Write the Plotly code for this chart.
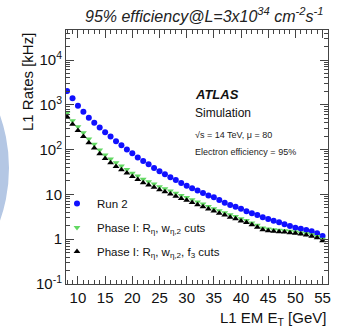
import plotly.graph_objects as go

# ---------------- data ----------------
et_gev = list(range(8, 56))

rate_run2 = [2030, 1400, 955, 700, 515, 400, 310, 243, 195, 153,
             125, 101, 83, 67, 56, 47, 39, 33, 28, 24,
             21, 18, 15.6, 13.8, 12.2, 10.7, 9.4, 8.6, 7.5, 6.5,
             5.8, 5.3, 4.8, 4.2, 3.8, 3.47, 3.08, 2.83, 2.59, 2.38,
             2.15, 1.97, 1.81, 1.72, 1.60, 1.50, 1.35, 1.18]

rate_phase1_reta_weta2 = [646, 442, 325, 238, 173, 131, 98, 76, 62, 51,
                          43, 36, 29.5, 25.7, 21.7, 19.2, 17, 14.9, 13.4, 11.9,
                          10.6, 9.4, 8.5, 7.6, 6.8, 6.1, 5.4, 4.8, 4.3, 3.9,
                          3.5, 3.2, 2.85, 2.6, 2.3, 2.05, 1.78, 1.68, 1.62, 1.58,
                          1.55, 1.5, 1.45, 1.38, 1.32, 1.25, 1.15, 1.0]

rate_phase1_reta_weta2_f3 = [540, 370, 268, 196, 143, 108, 81, 63, 51, 42,
                             35.5, 30, 25, 21.5, 18.3, 16.2, 14.4, 12.7, 11.4, 10.2,
                             9.1, 8.1, 7.4, 6.6, 5.9, 5.3, 4.75, 4.25, 3.8, 3.45,
                             3.1, 2.85, 2.55, 2.35, 2.1, 1.85, 1.62, 1.55, 1.5, 1.47,
                             1.44, 1.4, 1.35, 1.3, 1.24, 1.17, 1.08, 0.92]

x_tick_vals = [10, 15, 20, 25, 30, 35, 40, 45, 50, 55]
y_tick_vals = [0.1, 1, 10, 100, 1000, 10000]
y_tick_text = ["10<sup>-1</sup>", "1", "10", "10<sup>2</sup>", "10<sup>3</sup>", "10<sup>4</sup>"]

series_names = ["Run 2",
                "Phase I: R<sub>η</sub>, w<sub>η,2</sub> cuts",
                "Phase I: R<sub>η</sub>, w<sub>η,2</sub>, f<sub>3</sub> cuts"]

FONT = "Liberation Sans, Arial, Helvetica, sans-serif"

W, H = 342, 329
ML, MR, MT, MB = 66, 14, 30, 45
PW, PH = W - ML - MR, H - MT - MB


def px_x(p):
    return (p - ML) / PW


def px_y(p):
    return (H - MB - p) / PH


fig = go.Figure()

fig.add_trace(go.Scatter(
    x=et_gev, y=rate_run2, mode="markers", name=series_names[0],
    legendgroup="a",
    marker=dict(symbol="circle", size=6, color="#1010ff", line=dict(width=0)),
))
fig.add_trace(go.Scatter(
    x=et_gev, y=rate_phase1_reta_weta2, mode="markers", name=series_names[1],
    legendgroup="b",
    marker=dict(symbol="triangle-down", size=6, color="#62d862", line=dict(width=0)),
))
fig.add_trace(go.Scatter(
    x=et_gev, y=rate_phase1_reta_weta2_f3, mode="markers", name=series_names[2],
    legendgroup="c",
    marker=dict(symbol="triangle-up", size=6, color="#000000", line=dict(width=0)),
))

minor_y = [k * 10 ** n for n in range(-1, 5) for k in range(2, 10)]

fig.update_xaxes(
    range=[7.8, 56], tickvals=x_tick_vals, ticks="inside", ticklen=8, tickwidth=1,
    tickcolor="#444", showline=True, linecolor="#444", linewidth=1, mirror="allticks",
    showgrid=False, zeroline=False,
    tickfont=dict(family=FONT, size=15, color="#111"),
    minor=dict(tickmode="linear", tick0=0, dtick=1, ticks="inside", ticklen=4,
               tickcolor="#444", showgrid=False),
)
fig.update_yaxes(
    type="log", range=[-1, 4.67], tickvals=y_tick_vals, ticktext=y_tick_text,
    ticks="inside", ticklen=8, tickwidth=1, tickcolor="#444",
    showline=True, linecolor="#444", linewidth=1, mirror="allticks",
    showgrid=False, zeroline=False,
    tickfont=dict(family=FONT, size=15, color="#111"),
    minor=dict(tickmode="array", tickvals=minor_y, ticks="inside", ticklen=4,
               tickcolor="#444", showgrid=False),
)

annotations = [
    dict(text="<i>95% efficiency@L=3x10<sup>34</sup> cm<sup>-2</sup>s<sup>-1</sup></i>",
         x=px_x(204), y=px_y(15), xref="paper", yref="paper",
         showarrow=False, xanchor="center", yanchor="middle",
         font=dict(family=FONT, size=16, color="#222")),
    dict(text="L1 EM E<sub>T</sub> [GeV]", x=px_x(328), y=px_y(318),
         xref="paper", yref="paper", showarrow=False, xanchor="right", yanchor="middle",
         font=dict(family=FONT, size=15, color="#111")),
    dict(text="L1 Rates [kHz]", x=px_x(27), y=px_y(31), textangle=-90,
         xref="paper", yref="paper", showarrow=False, xanchor="center", yanchor="top",
         font=dict(family=FONT, size=15, color="#111")),
    dict(text="<b><i>ATLAS</i></b>", x=px_x(193), y=px_y(94),
         xref="paper", yref="paper", showarrow=False, xanchor="left", yanchor="middle",
         font=dict(family=FONT, size=13, color="#111")),
    dict(text="Simulation", x=px_x(193), y=px_y(113),
         xref="paper", yref="paper", showarrow=False, xanchor="left", yanchor="middle",
         font=dict(family=FONT, size=12, color="#111")),
    dict(text="√s = 14 TeV, μ = 80", x=px_x(193), y=px_y(135),
         xref="paper", yref="paper", showarrow=False, xanchor="left", yanchor="middle",
         font=dict(family=FONT, size=9, color="#222")),
    dict(text="Electron efficiency = 95%", x=px_x(193), y=px_y(152),
         xref="paper", yref="paper", showarrow=False, xanchor="left", yanchor="middle",
         font=dict(family=FONT, size=9, color="#222")),
]

shapes = [
    dict(type="circle", xref="paper", yref="paper", layer="below",
         x0=px_x(-312), x1=px_x(9), y0=px_y(328), y1=px_y(8),
         fillcolor="#b4c7e4", line=dict(width=0)),
]

fig.update_layout(
    width=W, height=H,
    margin=dict(l=ML, r=MR, t=MT, b=MB),
    paper_bgcolor="white", plot_bgcolor="rgba(0,0,0,0)",
    font=dict(family=FONT, color="#111"),
    showlegend=True,
    legend=dict(x=px_x(57), y=px_y(189), xanchor="left", yanchor="top",
                bgcolor="rgba(0,0,0,0)", borderwidth=0,
                font=dict(family=FONT, size=11.5, color="#111"),
                tracegroupgap=5),
    annotations=annotations,
    shapes=shapes,
)

fig.write_html("out.html",
               config={"displayModeBar": False},
               post_script="document.body.style.margin='0';document.body.style.overflow='hidden';")
